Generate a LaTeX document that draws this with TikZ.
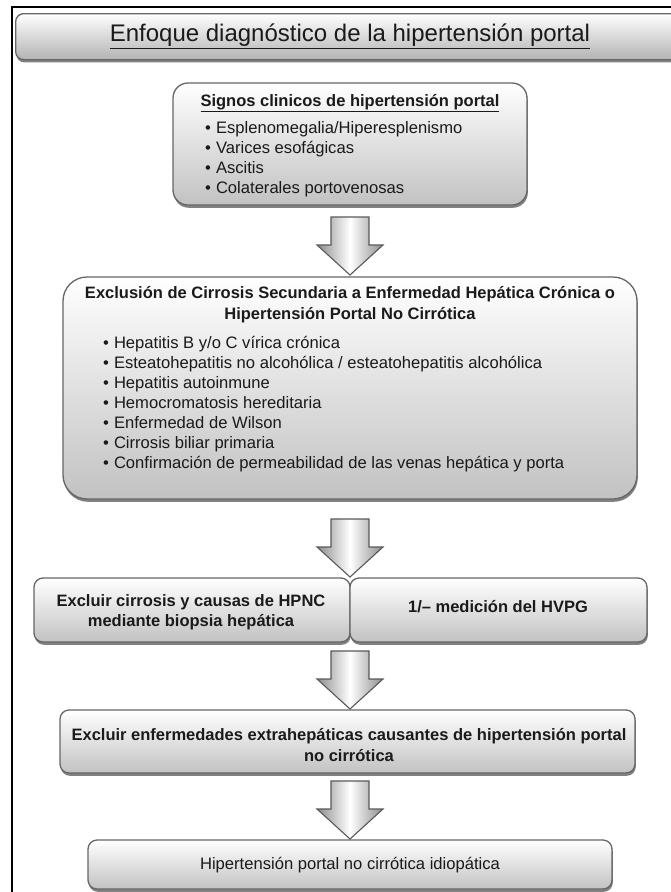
\documentclass[tikz,border=0pt]{standalone}
\usepackage{fontspec}
\setmainfont{Liberation Sans}
\usetikzlibrary{shadows}
\definecolor{txt}{HTML}{1A1A1A}
\definecolor{bord}{HTML}{666666}
\tikzset{
  box/.style={draw=bord, line width=1.3pt, rounded corners=#1, inner sep=0pt,
    top color=white, bottom color=black!24,
    drop shadow={shadow xshift=0.8pt, shadow yshift=-2.8pt, fill=black!62, opacity=0.8}},
  box/.default=12pt,
  hd/.style={font=\bfseries\fontsize{16.5}{20.5}\selectfont, text=txt, inner sep=0pt, align=center},
  bul/.style={font=\fontsize{16.6}{18}\selectfont, text=txt, inner sep=0pt, anchor=base west},
  plain/.style={font=\fontsize{16.6}{20}\selectfont, text=txt, inner sep=0pt, align=center},
  arrowsty/.style={draw=black!65, line width=1.1pt, line join=miter,
    left color=black!45, right color=black!45, middle color=white}
}
\newcommand{\blockarr}[2]{%
  \draw[arrowsty] (#1-19,#2) -- (#1+19,#2) -- (#1+19,#2+28) -- (#1+33,#2+28)
    -- (#1,#2+58) -- (#1-33,#2+28) -- (#1-19,#2+28) -- cycle;}
\begin{document}
\begin{tikzpicture}[x=1pt,y=-1pt]
\useasboundingbox (0,0) rectangle (671,892);
\clip (0,0) rectangle (671,892);
% outer frame
\draw[line width=1.6pt, black] (12,900) -- (12,7) -- (690,7);
% title
\node[box=8pt, minimum width=690pt, minimum height=46pt, anchor=north west,
  bottom color=black!30] (title) at (15,13) {};
\node[font=\fontsize{24}{26}\selectfont, text=txt, inner sep=0pt] (tt) at (350,36)
  {\underline{Enfoque diagnóstico de la hipertensión portal}};
% box 1
\node[box=15pt, minimum width=354pt, minimum height=122pt] (b1) at (350,144) {};
\node[hd] (b1h) at (350,103) {\underline{Signos clinicos de hipertensión portal}};
\foreach \t [count=\i] in {Esplenomegalia/Hiperesplenismo, Varices esofágicas, Ascitis, Colaterales portovenosas}
  \node[bul] (b1i\i) at (205,{133+20*(\i-1)}) {\textbullet\hspace{5pt}\t};
\blockarr{350}{217}
% box 2
\node[box=24pt, minimum width=574pt, minimum height=222pt] (b2) at (350,388) {};
\node[hd] (b2h) at (350,304.5) {Exclusión de Cirrosis Secundaria a Enfermedad Hepática Crónica o\\Hipertensión Portal No Cirrótica};
\foreach \t [count=\i] in {Hepatitis B y/o C vírica crónica, Esteatohepatitis no alcohólica / esteatohepatitis alcohólica, Hepatitis autoinmune, Hemocromatosis hereditaria, Enfermedad de Wilson, Cirrosis biliar primaria, Confirmación de permeabilidad de las venas hepática y porta}
  \node[bul] (b2i\i) at (103,{348+20*(\i-1)}) {\textbullet\hspace{5pt}\t};
\blockarr{350}{519}
% box 3
\node[box=9pt, minimum width=316pt, minimum height=64pt] (b3l) at (192,610) {};
\node[box=9pt, minimum width=297pt, minimum height=64pt] (b3r) at (498.5,610) {};
\node[hd] (b3lt) at (191,612) {Excluir cirrosis y causas de HPNC\\mediante biopsia hepática};
\node[hd] (b3rt) at (498,607) {1/– medición del HVPG};
\blockarr{350}{651}
% box 4
\node[box=9pt, minimum width=575pt, minimum height=63pt] (b4) at (347.5,741.5) {};
\node[hd] (b4t) at (349,745) {Excluir enfermedades extrahepáticas causantes de hipertensión portal\\no cirrótica};
\blockarr{350}{781}
% box 5
\node[box=9pt, minimum width=524pt, minimum height=49pt] (b5) at (350,864.5) {};
\node[plain] (b5t) at (350,865) {Hipertensión portal no cirrótica idiopática};
\end{tikzpicture}
\end{document}
